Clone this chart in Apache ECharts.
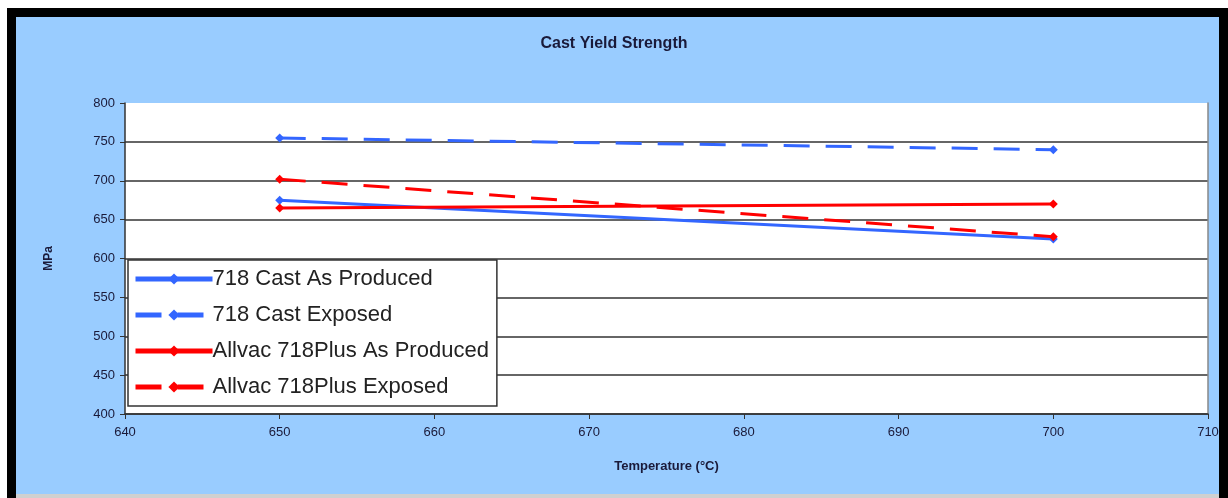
<!DOCTYPE html>
<html>
<head>
<meta charset="utf-8">
<script src="https://cdn.jsdelivr.net/npm/echarts@6/dist/echarts.min.js"></script>
<style>
  html, body { margin: 0; padding: 0; background: #ffffff; }
  #wrap { position: relative; width: 1228px; height: 498px; overflow: hidden; background: #ffffff; }
  #chart { position: absolute; left: 0; top: 0; width: 1228px; height: 498px; }
  .bar { position: absolute; background: #000; }
</style>
</head>
<body>
<div id="wrap">
  <div id="chart"></div>
  <div class="bar" style="left:0;top:0;width:1228px;height:8px;background:#fff"></div>
  <div class="bar" style="left:7px;top:8px;width:1221px;height:9px"></div>
  <div class="bar" style="left:0;top:0;width:7px;height:498px;background:#fff"></div>
  <div class="bar" style="left:7px;top:8px;width:9px;height:490px"></div>
  <div class="bar" style="left:1219px;top:8px;width:9px;height:490px"></div>
  <div class="bar" style="left:16px;top:494px;width:1203px;height:4px;background:#d0d0d0"></div>
</div>
<script>
const temperatures = [650, 700];
const cast718AsProduced = [675, 625];
const cast718Exposed = [755, 740];
const allvacAsProduced = [665, 670];
const allvacExposed = [702, 628];
const seriesNames = ['718 Cast As Produced', '718 Cast Exposed', 'Allvac 718Plus As Produced', 'Allvac 718Plus Exposed'];
const xTicks = [640, 650, 660, 670, 680, 690, 700, 710];
const yTicks = [400, 450, 500, 550, 600, 650, 700, 750, 800];

function pairs(vals) { return temperatures.map((t, i) => [t, vals[i]]); }

const BLUE = '#3366ff';
const RED = '#ff0000';
const TXT = '#1a1a3a';
const FONT = '"Liberation Sans", Arial, sans-serif';

function mk(name, vals, color, dashed) {
  return {
    name: name,
    type: 'line',
    data: pairs(vals),
    symbol: 'diamond',
    symbolSize: 9,
    showSymbol: true,
    lineStyle: { color: color, width: 3, type: dashed ? [26, 16] : 'solid' },
    itemStyle: { color: color },
    emphasis: { disabled: true },
    animation: false
  };
}

const chart = echarts.init(document.getElementById('chart'));
chart.setOption({
  backgroundColor: '#99ccff',
  animation: false,
  textStyle: { fontFamily: FONT },
  title: {
    text: 'Cast Yield Strength',
    left: 'center',
    top: 31,
    textStyle: { fontFamily: FONT, fontSize: 16, fontWeight: 'bold', color: TXT }
  },
  grid: {
    left: 125, right: 20, top: 103, bottom: 84,
    show: true, backgroundColor: '#ffffff', borderWidth: 0
  },
  legend: {
    orient: 'vertical',
    left: 128, top: 260,
    backgroundColor: '#ffffff',
    borderColor: '#333333',
    borderWidth: 1.5,
    padding: [8, 8, 8, 5],
    itemWidth: 77,
    itemHeight: 14,
    itemGap: 14,
    lineStyle: { width: 5 },
    textStyle: { fontFamily: FONT, fontSize: 22, color: '#222222', padding: [0, 0, 0, -5], lineHeight: 22 },
    data: seriesNames
  },
  xAxis: {
    type: 'value',
    min: xTicks[0], max: xTicks[xTicks.length - 1], interval: 10,
    name: 'Temperature (°C)',
    nameLocation: 'middle',
    nameGap: 46,
    nameTextStyle: { fontFamily: FONT, fontSize: 13, fontWeight: 'bold', color: TXT },
    axisLine: { show: true, lineStyle: { color: '#333333', width: 1.5 } },
    axisTick: { show: true, length: 5, lineStyle: { color: '#333333' } },
    axisLabel: { fontFamily: FONT, fontSize: 13, color: TXT, margin: 12 },
    splitLine: { show: false }
  },
  yAxis: [{
    type: 'value',
    min: yTicks[0], max: yTicks[yTicks.length - 1], interval: 50,
    name: 'MPa',
    nameLocation: 'middle',
    nameGap: 70,
    nameRotate: 90,
    nameTextStyle: { fontFamily: FONT, fontSize: 12, fontWeight: 'bold', color: TXT },
    axisLine: { show: true, lineStyle: { color: '#333333', width: 1.5 } },
    axisTick: { show: true, length: 5, lineStyle: { color: '#333333' } },
    axisLabel: { fontFamily: FONT, fontSize: 13, color: TXT, margin: 10 },
    splitLine: { show: true, showMaxLine: false, lineStyle: { color: '#333333', width: 1.5 } }
  }, {
    type: 'value',
    position: 'right',
    min: yTicks[0], max: yTicks[yTicks.length - 1], interval: 50,
    axisLine: { show: true, lineStyle: { color: '#888888', width: 1.5 } },
    axisTick: { show: false },
    axisLabel: { show: false },
    splitLine: { show: false }
  }],
  series: [
    mk(seriesNames[0], cast718AsProduced, BLUE, false),
    mk(seriesNames[1], cast718Exposed, BLUE, true),
    mk(seriesNames[2], allvacAsProduced, RED, false),
    mk(seriesNames[3], allvacExposed, RED, true)
  ]
});
</script>
</body>
</html>
